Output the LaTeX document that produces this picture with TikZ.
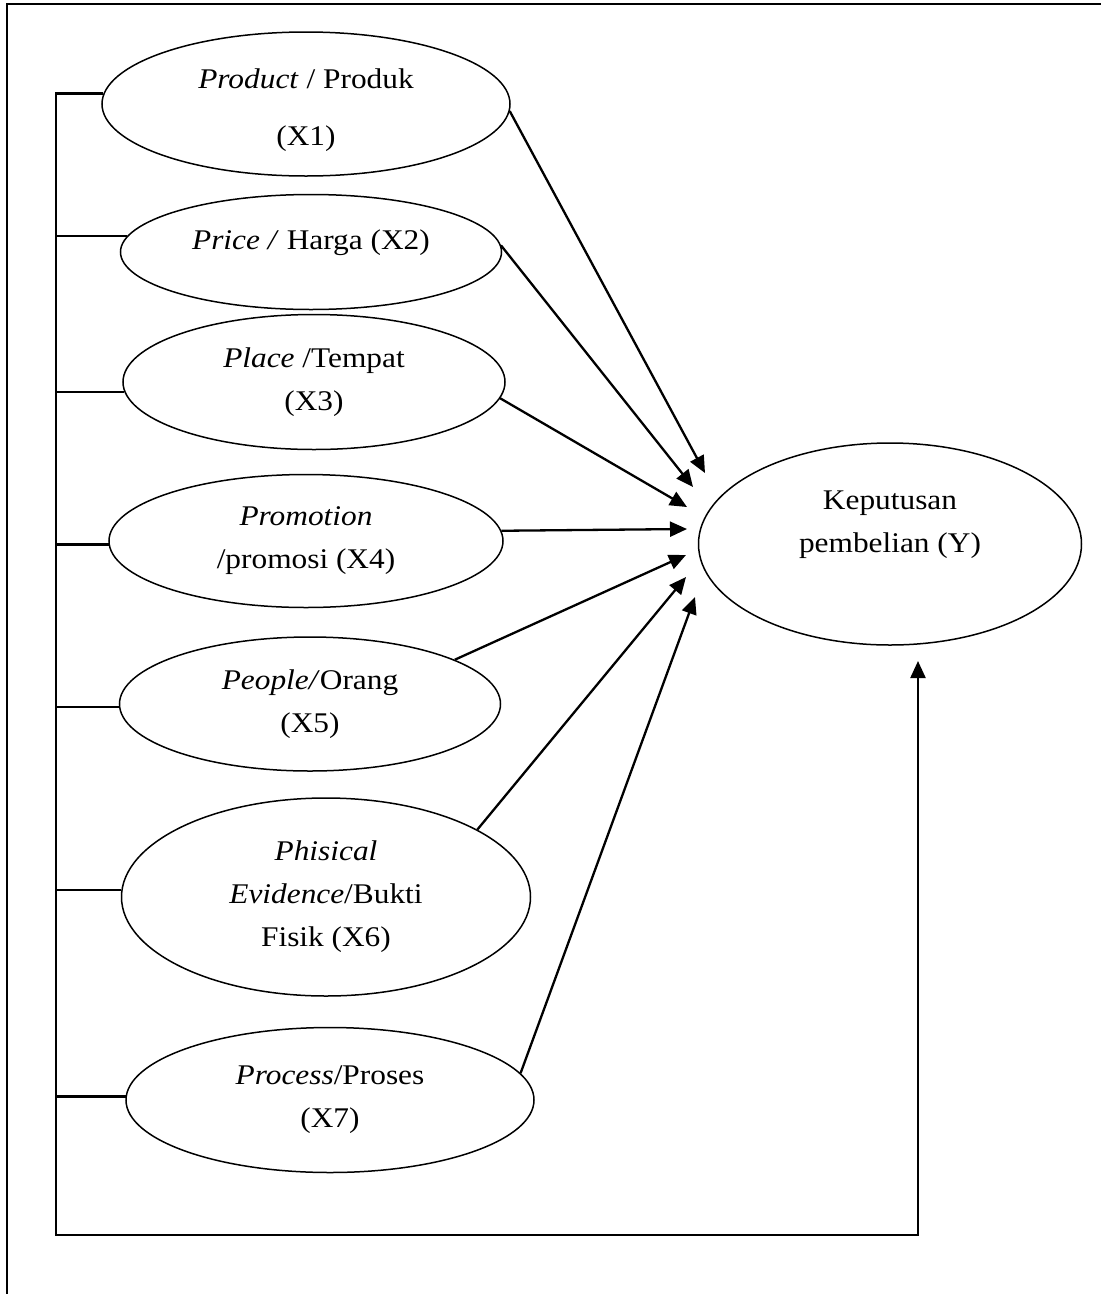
\documentclass[tikz,border=0pt]{standalone}
\usepackage{fontspec}
\setmainfont{Liberation Serif}[FakeStretch=1.1]
\usetikzlibrary{arrows.meta,shapes.geometric}

\tikzset{
  var/.style = {draw, ellipse, line width=1.5pt, inner sep=0pt, align=center,
                font=\fontsize{28.5}{43}\selectfont},
  link/.style = {line width=2.3pt},
  flow/.style = {link, -{Triangle[length=17pt, width=15pt]}},
}

\begin{document}
\begin{tikzpicture}[x=1pt, y=-1pt]
  \useasboundingbox (0,0) rectangle (1101,1294);
  % frame
  \draw[line width=2.5pt] (1101,4) -- (7,4) -- (7,1294);

  % variables
  \node[var, minimum width=408pt, minimum height=144pt, text height=90pt, font=\fontsize{28.5}{57}\selectfont] (x1) at (306,104) {\textit{Product} / Produk\\(X1)};
  \node[var, minimum width=381pt, minimum height=115pt, text depth=25pt] (x2) at (311,252) {\textit{Price /} Harga (X2)};
  \node[var, minimum width=382pt, minimum height=135pt] (x3) at (314,382) {\textit{Place} /Tempat\\(X3)};
  \node[var, minimum width=394pt, minimum height=133pt] (x4) at (306,541) {\textit{Promotion}\\/promosi (X4)};
  \node[var, minimum width=381pt, minimum height=134pt] (x5) at (310,704) {\textit{People/}Orang\\(X5)};
  \node[var, minimum width=409pt, minimum height=198pt] (x6) at (326,897) {\textit{Phisical}\\\textit{Evidence}/Bukti\\Fisik (X6)};
  \node[var, minimum width=408pt, minimum height=145pt] (x7) at (330,1100) {\textit{Process}/Proses\\(X7)};
  \node[var, minimum width=383pt, minimum height=202pt, text depth=45pt] (y) at (890,544) {Keputusan\\pembelian (Y)};

  % arrow ends
  \coordinate (in1) at (705,473);
  \coordinate (in2) at (693,487);
  \coordinate (in3) at (687,507);
  \coordinate (in4) at (687,529);
  \coordinate (in5) at (686,555);
  \coordinate (in6) at (686,577);
  \coordinate (in7) at (695,597);
  \coordinate (in8) at (918,661);
  \coordinate (bus) at (56,92);
  \coordinate (busend) at (56,1235);

  \foreach \i/\a in {1/-2, 2/2, 3/-5, 4/3.5, 5/17, 6/24, 7/8.5}
    \draw[flow] (x\i.\a) -- (in\i);

  % simultaneous path
  \foreach \i/\a in {1/177, 2/175, 3/183, 4/181, 5/181.5, 6/178, 7/179}
    \draw[link] (x\i.\a) -- (x\i.\a -| bus);
  \draw[flow] (bus) -- (busend) -| (in8);
\end{tikzpicture}
\end{document}
